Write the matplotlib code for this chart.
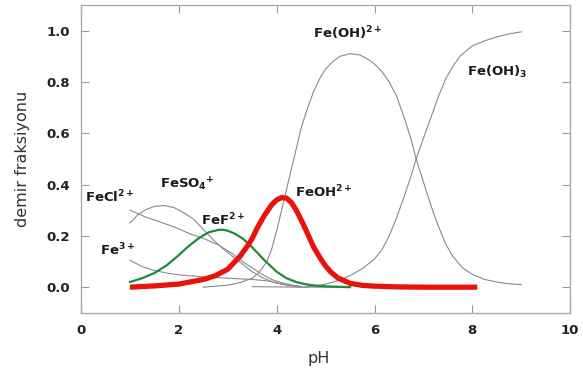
"""
Iron speciation vs pH (demir fraksiyonu).
"""
import matplotlib
matplotlib.use('Agg')
import matplotlib.pyplot as plt

plt.rcParams['font.family'] = ['DejaVu Sans']
plt.rcParams['mathtext.fontset'] = 'custom'
plt.rcParams['mathtext.rm'] = 'DejaVu Sans:bold'
plt.rcParams['mathtext.bf'] = 'DejaVu Sans:bold'
plt.rcParams['mathtext.default'] = 'bf'

# values (pH, fraction)
fe_oh2_ph = [2.5, 3.0, 3.25, 3.5, 3.65, 3.8, 3.9, 4.0, 4.1, 4.2, 4.3, 4.4, 4.5, 4.6, 4.75,
             4.9, 5.0, 5.15, 5.3, 5.5, 5.7, 5.85, 6.0, 6.15, 6.3, 6.45, 6.6, 6.75, 6.85,
             7.0, 7.15, 7.3, 7.45, 7.6, 7.8, 8.0, 8.25, 8.5, 8.75, 9.0]
fe_oh2_frac = [0.0, 0.008, 0.018, 0.035, 0.06, 0.10, 0.15, 0.22, 0.30, 0.38, 0.46, 0.54,
               0.62, 0.68, 0.76, 0.82, 0.85, 0.88, 0.90, 0.91, 0.905, 0.89, 0.87, 0.84,
               0.80, 0.745, 0.665, 0.575, 0.50, 0.41, 0.32, 0.24, 0.17, 0.12, 0.075, 0.05,
               0.03, 0.02, 0.013, 0.01]

fe_oh3_ph = [4.5, 4.8, 5.0, 5.25, 5.5, 5.75, 6.0, 6.15, 6.3, 6.45, 6.6, 6.75, 6.85, 7.0,
             7.15, 7.3, 7.45, 7.6, 7.75, 7.9, 8.0, 8.25, 8.5, 8.75, 9.0]
fe_oh3_frac = [0.0, 0.005, 0.012, 0.025, 0.045, 0.072, 0.11, 0.145, 0.20, 0.27, 0.35, 0.435,
               0.50, 0.58, 0.66, 0.74, 0.81, 0.86, 0.90, 0.925, 0.94, 0.96, 0.975, 0.987, 0.995]

feoh_ph = [1.0, 1.5, 2.0, 2.5, 2.75, 2.9, 3.0, 3.1, 3.25, 3.4, 3.5, 3.6, 3.75, 3.9, 4.0,
           4.1, 4.2, 4.3, 4.4, 4.5, 4.6, 4.75, 4.9, 5.0, 5.1, 5.25, 5.5, 5.75, 6.0,
           6.5, 7.0, 8.1]
feoh_frac = [0.0, 0.005, 0.012, 0.03, 0.045, 0.06, 0.07, 0.09, 0.12, 0.16, 0.19, 0.23,
             0.28, 0.322, 0.34, 0.349, 0.347, 0.33, 0.30, 0.262, 0.222, 0.158, 0.11, 0.082,
             0.06, 0.036, 0.015, 0.007, 0.004, 0.001, 0.0, 0.0]

fef_ph = [1.0, 1.25, 1.5, 1.75, 2.0, 2.2, 2.4, 2.6, 2.8, 2.9, 3.0, 3.15, 3.3, 3.45, 3.6,
          3.75, 3.9, 4.0, 4.2, 4.4, 4.6, 4.8, 5.0, 5.5]
fef_frac = [0.02, 0.035, 0.055, 0.085, 0.125, 0.16, 0.19, 0.213, 0.223, 0.224, 0.22, 0.208,
            0.19, 0.165, 0.135, 0.105, 0.078, 0.06, 0.035, 0.02, 0.011, 0.006, 0.003, 0.0]

feso4_ph = [1.0, 1.15, 1.3, 1.5, 1.7, 1.9, 2.1, 2.3, 2.5, 2.7, 2.9, 3.1, 3.3, 3.5, 3.7,
            3.9, 4.1, 4.3, 4.5]
feso4_frac = [0.25, 0.28, 0.30, 0.315, 0.318, 0.31, 0.29, 0.265, 0.225, 0.185, 0.15, 0.12,
              0.09, 0.06, 0.038, 0.022, 0.012, 0.005, 0.0]

fecl_ph = [1.0, 1.3, 1.6, 1.9, 2.2, 2.5, 2.8, 3.1, 3.3, 3.5, 3.7, 3.9, 4.1, 4.3, 4.5]
fecl_frac = [0.30, 0.275, 0.255, 0.235, 0.21, 0.19, 0.165, 0.13, 0.10, 0.075, 0.05, 0.03,
             0.017, 0.008, 0.003]

fe3_ph = [1.0, 1.25, 1.5, 1.75, 2.0, 2.5, 3.0, 3.5, 3.8, 4.1, 4.5]
fe3_frac = [0.105, 0.08, 0.065, 0.055, 0.048, 0.04, 0.035, 0.03, 0.025, 0.012, 0.002]

other_ph = [3.5, 4.5, 5.5]
other_frac = [0.002, 0.0, 0.0]

labels = [r'Fe(OH)$^{2+}$', r'Fe(OH)$_3$', r'FeOH$^{2+}$', r'FeF$^{2+}$',
          r'FeSO$_4$$^{+}$', r'FeCl$^{2+}$', r'Fe$^{3+}$']
label_pos = [(4.75, 0.99), (7.9, 0.84), (4.38, 0.37), (2.45, 0.26),
             (1.62, 0.40), (0.08, 0.35), (0.38, 0.145)]

fig = plt.figure(figsize=(5.83, 3.76), dpi=100)
ax = fig.add_axes([0.139, 0.168, 0.839, 0.819])

gray = '#8a8a8a'
ax.plot(fe3_ph, fe3_frac, color=gray, lw=0.8)
ax.plot(fecl_ph, fecl_frac, color=gray, lw=0.8)
ax.plot(feso4_ph, feso4_frac, color=gray, lw=0.8)
ax.plot(other_ph, other_frac, color=gray, lw=0.8)
ax.plot(fe_oh2_ph, fe_oh2_frac, color=gray, lw=0.8)
ax.plot(fe_oh3_ph, fe_oh3_frac, color=gray, lw=0.8)
ax.plot(fef_ph, fef_frac, color='#22883a', lw=1.6)
ax.plot(feoh_ph, feoh_frac, color='#e8140c', lw=3.8, solid_capstyle='butt')

for txt, (x, y) in zip(labels, label_pos):
    ax.text(x, y, txt, fontsize=9.5, fontweight='bold', color='#1a1a1a',
            ha='left', va='center')

ax.set_xlim(0, 10)
ax.set_ylim(-0.1, 1.1)
ax.set_xticks([0, 2, 4, 6, 8, 10])
ax.set_yticks([0.0, 0.2, 0.4, 0.6, 0.8, 1.0])
ax.set_yticklabels(['0.0', '0.2', '0.4', '0.6', '0.8', '1.0'])
ax.tick_params(direction='in', length=6, width=0.8, color='#999999',
               top=True, right=True, labelsize=9.5, labelcolor='#222222', pad=8)
for lbl in ax.get_xticklabels() + ax.get_yticklabels():
    lbl.set_fontweight('bold')
for sp in ax.spines.values():
    sp.set_color('#aaaaaa')
    sp.set_linewidth(1.0)

ax.set_xlabel('pH', fontsize=11.5, color='#333333')
ax.set_ylabel('demir fraksiyonu', fontsize=11.5, color='#333333')
ax.xaxis.set_label_coords(0.485, -0.123)
ax.yaxis.set_label_coords(-0.105, 0.5)

plt.savefig('out.png', dpi=100, facecolor='white')
plt.close()
